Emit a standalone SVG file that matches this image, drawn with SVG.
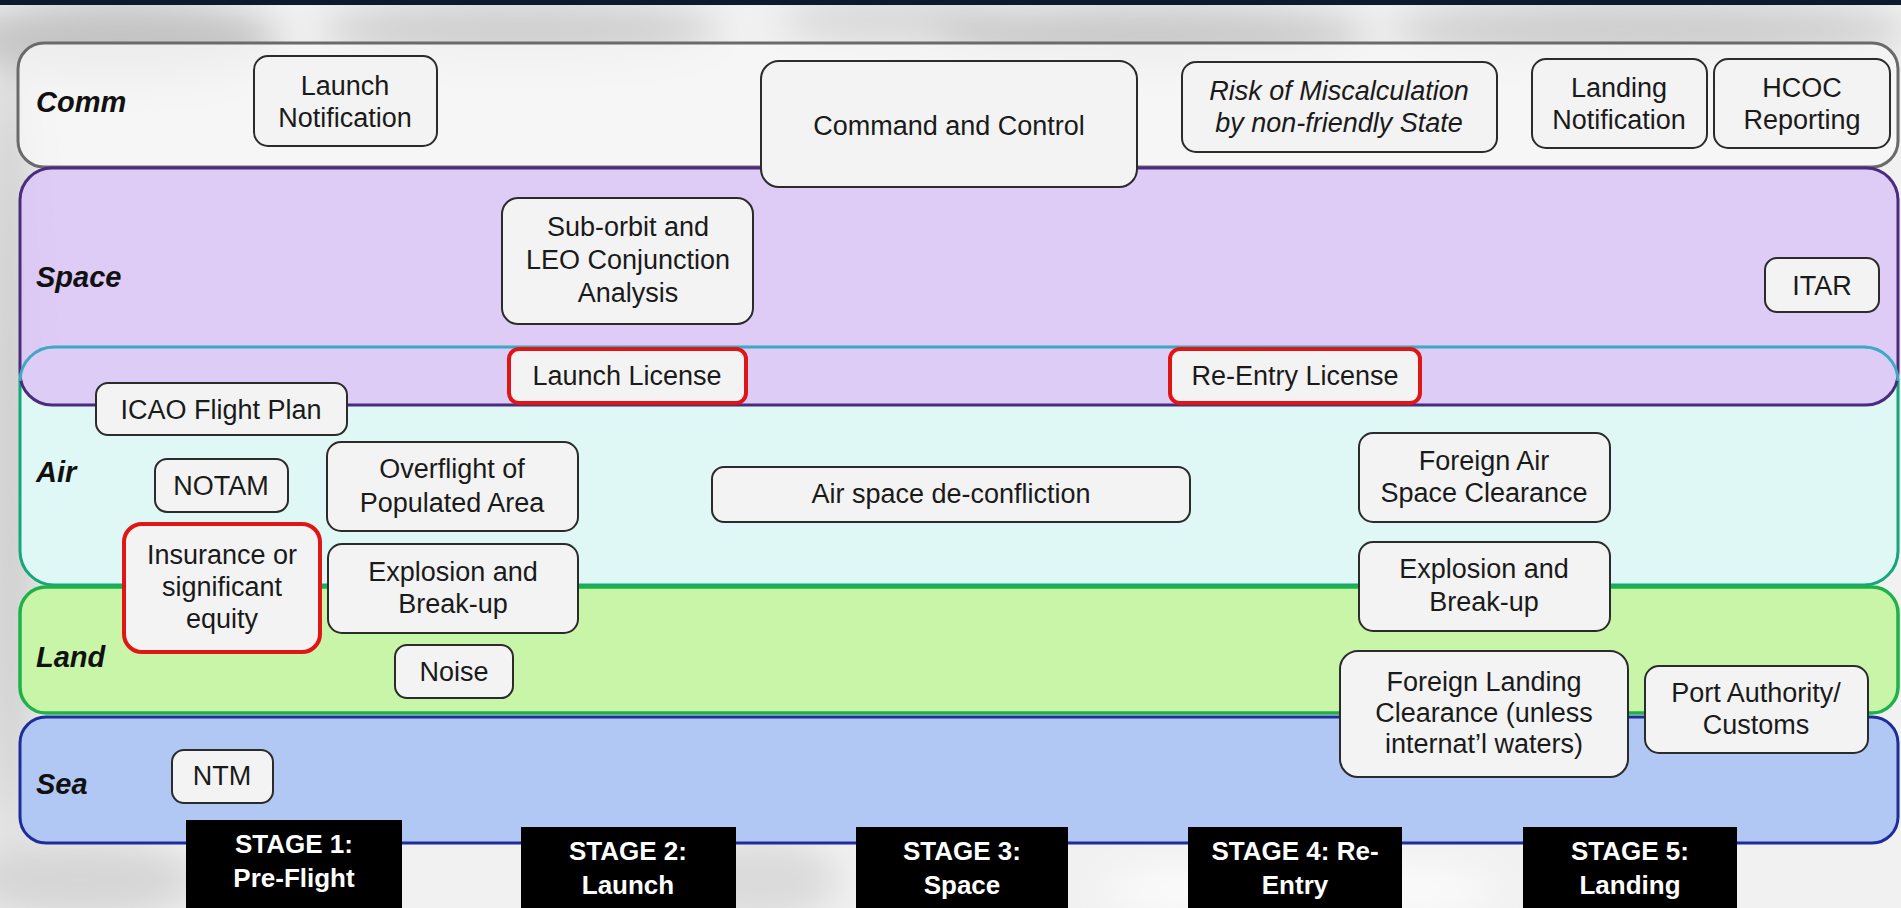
<svg xmlns="http://www.w3.org/2000/svg" width="1901" height="908" viewBox="0 0 1901 908">
<defs>
<style>
.lbl{font-family:"Liberation Sans",Arial,sans-serif;font-weight:bold;font-style:italic;font-size:29px;fill:#111;}
.node rect{fill:#f3f3f3;stroke:#2b2b2b;stroke-width:2;}
.node.red rect{stroke:#e01515;stroke-width:4;}
.node text{font-family:"Liberation Sans",Arial,sans-serif;font-size:27px;fill:#1a1a1a;text-anchor:middle;}
.node text.it{font-style:italic;}
.stage rect{fill:#000;}
.stage text{font-family:"Liberation Sans",Arial,sans-serif;font-weight:bold;font-size:26px;fill:#fff;text-anchor:middle;}
</style>
<filter id="blur" x="-50%" y="-50%" width="200%" height="200%"><feGaussianBlur stdDeviation="18"/></filter>
</defs>
<g id="background">
<rect width="1901" height="908" fill="#f1f1f1"/>
<g filter="url(#blur)">
<ellipse cx="120" cy="40" rx="160" ry="40" fill="#c4c4c4"/>
<ellipse cx="520" cy="30" rx="200" ry="30" fill="#cfcfcf"/>
<ellipse cx="900" cy="20" rx="120" ry="25" fill="#d8d8d8"/>
<ellipse cx="1150" cy="35" rx="220" ry="30" fill="#c9c9c9"/>
<ellipse cx="1650" cy="30" rx="260" ry="30" fill="#cdcdcd"/>
<ellipse cx="10" cy="450" rx="30" ry="400" fill="#d0d0d0"/>
<ellipse cx="80" cy="880" rx="120" ry="40" fill="#d6d6d6"/>
<ellipse cx="760" cy="880" rx="80" ry="40" fill="#dadada"/>
<ellipse cx="1300" cy="890" rx="200" ry="30" fill="#fbfbfb"/>
</g>
<rect x="0" y="0" width="1901" height="5" fill="#0b1a2e"/>
</g>
<g id="bands">
<g id="band-comm">
<rect x="18" y="43" width="1880" height="124" rx="26" fill="#f7f7f7" fill-opacity="0.82" stroke="#6a6a6a" stroke-width="3"/>
<text class="lbl" x="36" y="112">Comm</text>
</g>
<g id="band-air">
<rect x="20" y="347" width="1878" height="238" rx="34" fill="#dff8f5" stroke="#14a77c" stroke-width="3"/>
</g>
<g id="band-space">
<rect x="20" y="168" width="1878" height="237" rx="32" fill="#dbc6f6" fill-opacity="0.9" stroke="#4a2b7e" stroke-width="3"/>
<path d="M20,381 A34,34 0 0 1 54,347 H1864 A34,34 0 0 1 1898,381" fill="none" stroke="#3fa9c4" stroke-width="3"/>
<text class="lbl" x="36" y="287">Space</text>
</g>
<text class="lbl" x="36" y="482">Air</text>
<g id="band-land">
<rect x="20" y="587" width="1878" height="126" rx="26" fill="#c9f5a9" stroke="#1db34a" stroke-width="3.5"/>
<text class="lbl" x="36" y="667">Land</text>
</g>
<g id="band-sea">
<rect x="20" y="717" width="1878" height="126" rx="26" fill="#b1c8f5" stroke="#1f2c9c" stroke-width="3"/>
<text class="lbl" x="36" y="794">Sea</text>
</g>
</g>
<g id="connectors"/>
<g id="n-launch-notification" class="node"><rect x="254" y="56" width="183" height="90" rx="14"/><text x="345" y="95">Launch</text><text x="345" y="127">Notification</text></g>
<g id="n-command-control" class="node"><rect x="761" y="61" width="376" height="126" rx="18"/><text x="949" y="135">Command and Control</text></g>
<g id="n-risk" class="node"><rect x="1182" y="62" width="315" height="90" rx="14"/><text class="it" x="1339" y="100">Risk of Miscalculation</text><text class="it" x="1339" y="132">by non-friendly State</text></g>
<g id="n-landing-notification" class="node"><rect x="1532" y="59" width="175" height="89" rx="14"/><text x="1619" y="97">Landing</text><text x="1619" y="129">Notification</text></g>
<g id="n-hcoc" class="node"><rect x="1714" y="59" width="176" height="89" rx="14"/><text x="1802" y="97">HCOC</text><text x="1802" y="129">Reporting</text></g>
<g id="n-suborbit" class="node"><rect x="502" y="198" width="251" height="126" rx="16"/><text x="628" y="236">Sub-orbit and</text><text x="628" y="269">LEO Conjunction</text><text x="628" y="302">Analysis</text></g>
<g id="n-itar" class="node"><rect x="1765" y="258" width="114" height="54" rx="12"/><text x="1822" y="295">ITAR</text></g>
<g id="n-launch-license" class="node red"><rect x="509" y="349" width="237" height="54" rx="10"/><text x="627" y="385">Launch License</text></g>
<g id="n-reentry-license" class="node red"><rect x="1170" y="349" width="250" height="54" rx="10"/><text x="1295" y="385">Re-Entry License</text></g>
<g id="n-icao" class="node"><rect x="96" y="383" width="251" height="52" rx="12"/><text x="221" y="419">ICAO Flight Plan</text></g>
<g id="n-notam" class="node"><rect x="155" y="459" width="133" height="53" rx="12"/><text x="221" y="495">NOTAM</text></g>
<g id="n-overflight" class="node"><rect x="327" y="442" width="251" height="89" rx="14"/><text x="452" y="478">Overflight of</text><text x="452" y="512">Populated Area</text></g>
<g id="n-airspace" class="node"><rect x="712" y="467" width="478" height="55" rx="12"/><text x="951" y="503">Air space de-confliction</text></g>
<g id="n-foreign-air" class="node"><rect x="1359" y="433" width="251" height="89" rx="14"/><text x="1484" y="470">Foreign Air</text><text x="1484" y="502">Space Clearance</text></g>
<g id="n-insurance" class="node red"><rect x="124" y="524" width="196" height="128" rx="18"/><text x="222" y="564">Insurance or</text><text x="222" y="596">significant</text><text x="222" y="628">equity</text></g>
<g id="n-explosion-launch" class="node"><rect x="328" y="544" width="250" height="89" rx="14"/><text x="453" y="581">Explosion and</text><text x="453" y="613">Break-up</text></g>
<g id="n-explosion-reentry" class="node"><rect x="1359" y="542" width="251" height="89" rx="14"/><text x="1484" y="578">Explosion and</text><text x="1484" y="611">Break-up</text></g>
<g id="n-noise" class="node"><rect x="395" y="645" width="118" height="53" rx="12"/><text x="454" y="681">Noise</text></g>
<g id="n-foreign-landing" class="node"><rect x="1340" y="651" width="288" height="126" rx="18"/><text x="1484" y="691">Foreign Landing</text><text x="1484" y="722">Clearance (unless</text><text x="1484" y="753">internat’l waters)</text></g>
<g id="n-port" class="node"><rect x="1645" y="666" width="223" height="87" rx="14"/><text x="1756" y="702">Port Authority/</text><text x="1756" y="734">Customs</text></g>
<g id="n-ntm" class="node"><rect x="172" y="750" width="101" height="53" rx="12"/><text x="222" y="785">NTM</text></g>
<g id="stage-1" class="stage"><rect x="186" y="820" width="216" height="88"/><text x="294" y="853">STAGE 1:</text><text x="294" y="887">Pre-Flight</text></g>
<g id="stage-2" class="stage"><rect x="521" y="827" width="215" height="81"/><text x="628" y="860">STAGE 2:</text><text x="628" y="894">Launch</text></g>
<g id="stage-3" class="stage"><rect x="856" y="827" width="212" height="81"/><text x="962" y="860">STAGE 3:</text><text x="962" y="894">Space</text></g>
<g id="stage-4" class="stage"><rect x="1188" y="827" width="214" height="81"/><text x="1295" y="860">STAGE 4: Re-</text><text x="1295" y="894">Entry</text></g>
<g id="stage-5" class="stage"><rect x="1523" y="827" width="214" height="81"/><text x="1630" y="860">STAGE 5:</text><text x="1630" y="894">Landing</text></g>
</svg>
